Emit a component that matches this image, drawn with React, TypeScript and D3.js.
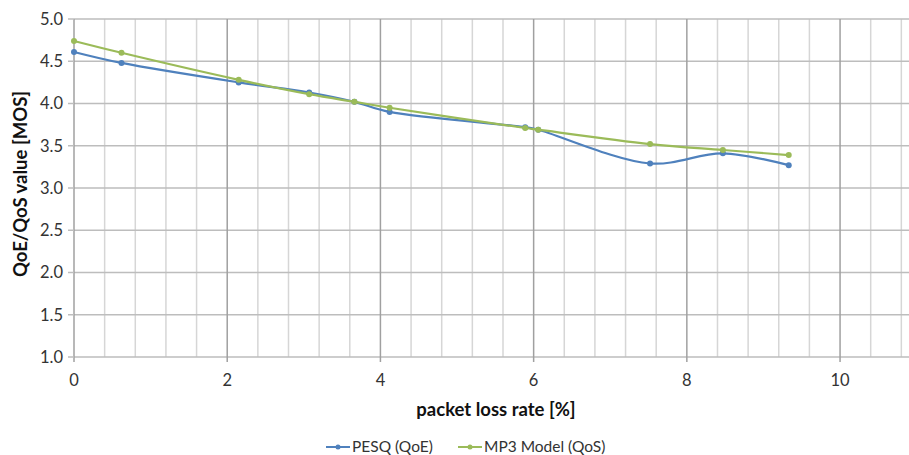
import React from "react";
import * as d3 from "d3";

const lossRates = [0, 0.62, 2.15, 3.07, 3.66, 4.12, 5.89, 6.06, 7.52, 8.47, 9.33];
const pesqValues = [4.61, 4.48, 4.25, 4.13, 4.02, 3.9, 3.72, 3.69, 3.29, 3.41, 3.27];
const mp3Values = [4.74, 4.6, 4.28, 4.11, 4.02, 3.95, 3.71, 3.69, 3.52, 3.45, 3.39];
const xTicks = [0, 2, 4, 6, 8, 10];
const yTicks = [1.0, 1.5, 2.0, 2.5, 3.0, 3.5, 4.0, 4.5, 5.0];
const seriesNames = ["PESQ (QoE)", "MP3 Model (QoS)"];
const colors = ["#4F81BD", "#9BBB59"];

const W = 909;
const H = 455;
const FONT = "Lato, 'Open Sans', sans-serif";

export default function App() {
  const x = d3.scaleLinear().domain([0, 10.9]).range([74, 909]);
  const y = d3.scaleLinear().domain([1, 5]).range([357, 19]);
  const minorX = d3.range(0, 10.95, 0.4).filter((v) => Math.abs(v / 2 - Math.round(v / 2)) > 1e-6);
  const line = d3
    .line<[number, number]>()
    .x((d) => x(d[0]))
    .y((d) => y(d[1]))
    .curve(d3.curveCatmullRom.alpha(0.5));
  const series = [pesqValues, mp3Values].map((vals) => lossRates.map((r, i) => [r, vals[i]] as [number, number]));

  return (
    <svg width={W} height={H} style={{ position: "absolute", left: 0, top: 0, background: "#fff" }}>
      <g>
        {minorX.map((v, i) => (
          <line key={"mx" + i} x1={x(v)} x2={x(v)} y1={y(5)} y2={y(1)} stroke="#d6d6d6" strokeWidth={1.5} />
        ))}
        {yTicks.map((v) => (
          <line key={"gy" + v} x1={x(0)} x2={W} y1={y(v)} y2={y(v)} stroke="#bdbdbd" strokeWidth={1.5} />
        ))}
        {xTicks.map((v) => (
          <line key={"gx" + v} x1={x(v)} x2={x(v)} y1={y(5)} y2={y(1) + 5} stroke="#a0a0a0" strokeWidth={1.5} />
        ))}
        {yTicks.map((v) => (
          <line key={"ty" + v} x1={x(0) - 6} x2={x(0)} y1={y(v)} y2={y(v)} stroke="#bdbdbd" strokeWidth={1.5} />
        ))}
      </g>
      <g fontFamily={FONT} fontSize={16.5} fill="#333">
        {yTicks.map((v) => (
          <text key={"ly" + v} x={x(0) - 11} y={y(v)} dy="0.35em" textAnchor="end">
            {v.toFixed(1)}
          </text>
        ))}
        {xTicks.map((v) => (
          <text key={"lx" + v} x={x(v)} y={y(1) + 29} textAnchor="middle">
            {v}
          </text>
        ))}
      </g>
      <text x={496} y={416} textAnchor="middle" fontFamily={FONT} fontSize={18.5} fontWeight="bold" fill="#111">
        packet loss rate [%]
      </text>
      <text
        transform={`translate(27,${(y(5) + y(1)) / 2 - 4}) rotate(-90)`}
        textAnchor="middle"
        fontFamily={FONT}
        fontSize={18.5}
        fontWeight="bold"
        fill="#111"
      >
        QoE/QoS value [MOS]
      </text>
      {series.map((s, i) => (
        <g key={"s" + i}>
          <path d={line(s) || ""} fill="none" stroke={colors[i]} strokeWidth={2.2} />
          {s.map((d, j) => (
            <circle key={j} cx={x(d[0])} cy={y(d[1])} r={3} fill={colors[i]} />
          ))}
        </g>
      ))}
      <g fontFamily={FONT} fontSize={15.5} fill="#333">
        {seriesNames.map((n, i) => {
          const lx = i === 0 ? 326 : 458;
          return (
            <g key={"lg" + i}>
              <line x1={lx} x2={lx + 24} y1={447} y2={447} stroke={colors[i]} strokeWidth={2} />
              <circle cx={lx + 12} cy={447} r={2.5} fill={colors[i]} />
              <text x={lx + 26} y={447} dy="0.35em">
                {n}
              </text>
            </g>
          );
        })}
      </g>
    </svg>
  );
}
